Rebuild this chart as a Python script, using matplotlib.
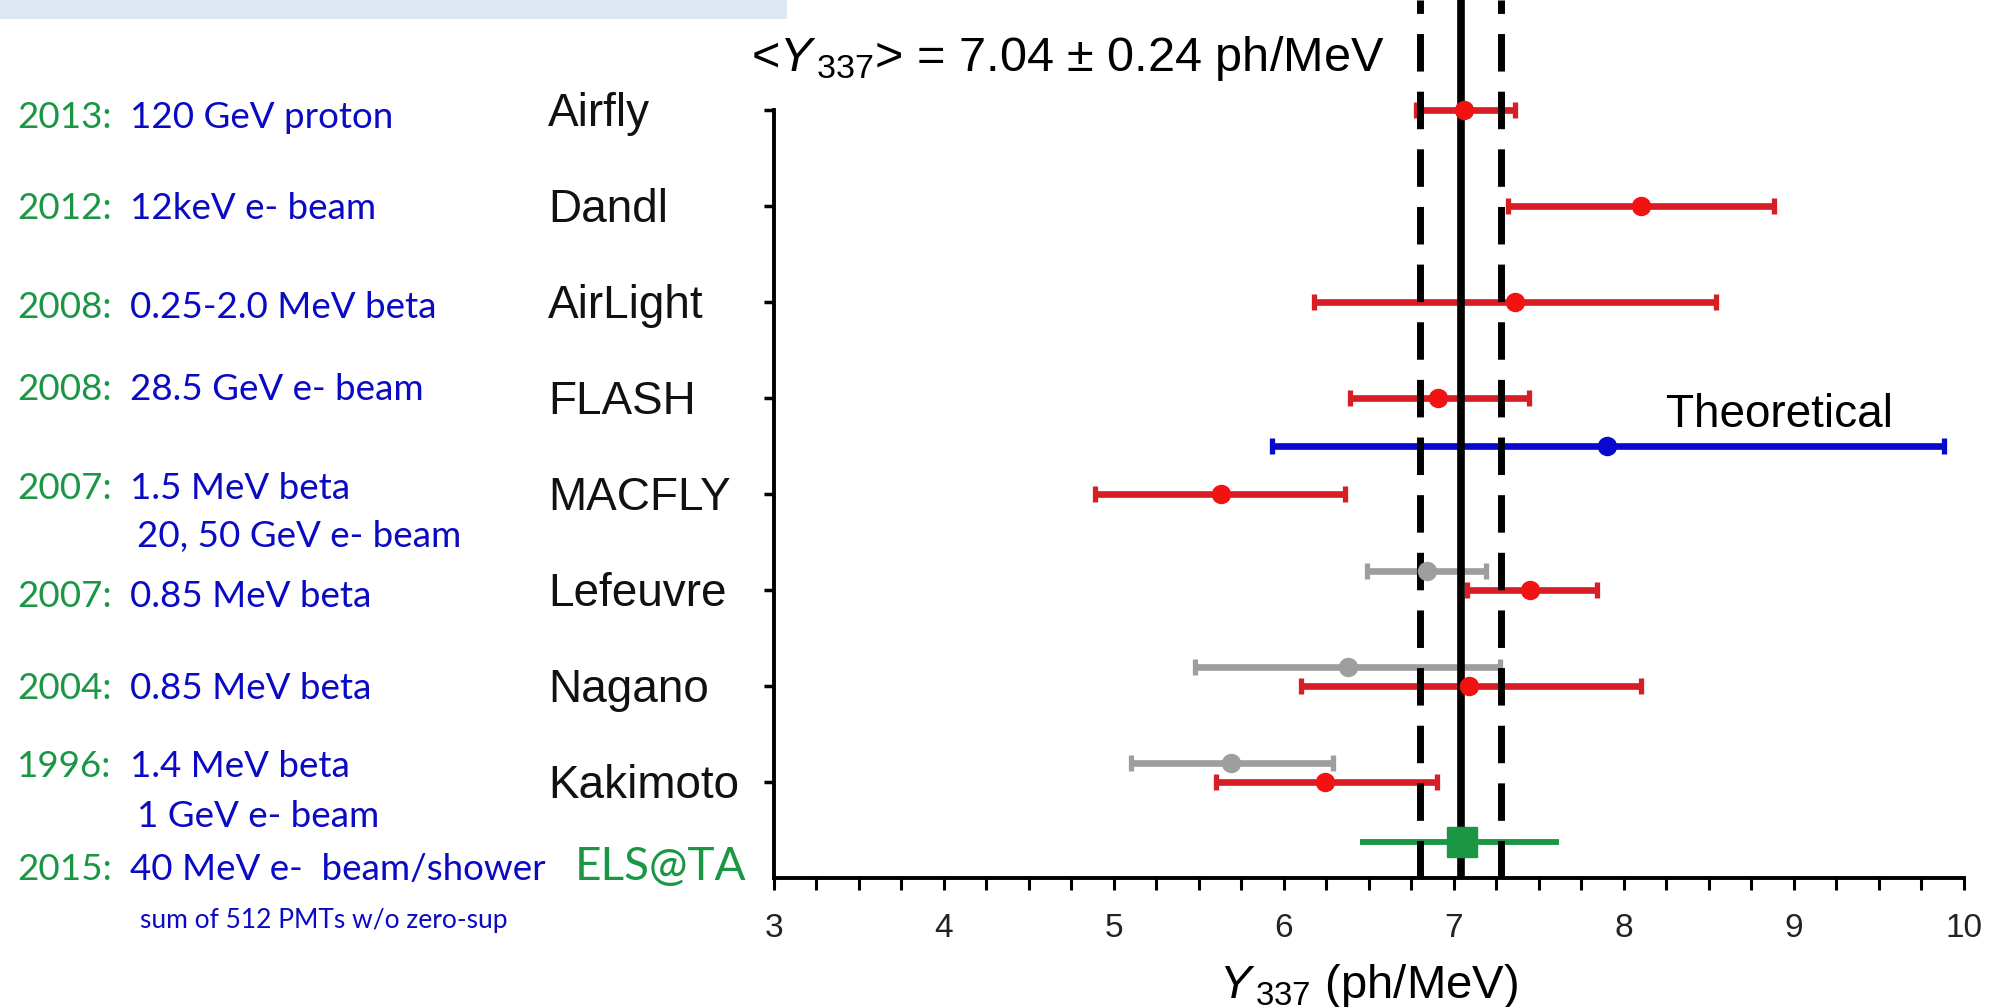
import matplotlib.pyplot as plt
import matplotlib.transforms as mtransforms
from matplotlib.patches import Rectangle
from matplotlib.ticker import MultipleLocator

plt.rcParams["font.family"] = ["Liberation Sans", "DejaVu Sans"]
plt.rcParams["mathtext.fontset"] = "custom"
plt.rcParams["mathtext.rm"] = "Liberation Sans"
plt.rcParams["mathtext.it"] = "Liberation Sans:italic"

W, H, DPI = 1989, 1007, 100

# Measurements, top to bottom
experiments = ["Airfly", "Dandl", "AirLight", "FLASH", "MACFLY", "Lefeuvre", "Nagano", "Kakimoto"]
years = ["2013:", "2012:", "2008:", "2008:", "2007:", "2007:", "2004:", "1996:"]
beams = ["120 GeV proton", "12keV e- beam", "0.25-2.0 MeV beta", "28.5 GeV e- beam",
         "1.5 MeV beta", "0.85 MeV beta", "0.85 MeV beta", "1.4 MeV beta"]
beams_2nd = ["", "", "", "", "20, 50 GeV e- beam", "", "", "1 GeV e- beam"]

y337 = [7.06, 8.10, 7.36, 6.91, 5.63, 7.45, 7.09, 6.24]
y337_lo = [6.78, 7.32, 6.18, 6.39, 4.89, 7.08, 6.10, 5.60]
y337_hi = [7.36, 8.88, 8.54, 7.44, 6.36, 7.84, 8.10, 6.90]

# earlier values of the same experiments (grey)
old_names = ["Lefeuvre", "Nagano", "Kakimoto"]
old_y337 = [6.84, 6.38, 5.69]
old_lo = [6.49, 5.48, 5.10]
old_hi = [7.19, 7.27, 6.29]

theory_y337, theory_lo, theory_hi = 7.90, 5.93, 9.88

els_year, els_beam, els_note = "2015:", "40 MeV e-  beam/shower", "sum of 512 PMTs w/o zero-sup"
els_y337, els_lo, els_hi = 7.05, 6.45, 7.62

mean_y337, mean_err = 7.04, 0.24

# layout (pixels from top / left of the figure)
year_baselines = [128, 219, 318, 400, 499, 607, 699, 777]
second_baselines = {4: 547, 7: 827}

RED_LINE, RED_DOT = "#d81d25", "#f21212"
GREY = "#9e9e9e"
BLUE = "#0808cf"
GREEN = "#1a9645"
TXT_BLUE = "#0a0ac4"

fig = plt.figure(figsize=(W / DPI, H / DPI), dpi=DPI)
ax = fig.add_axes([773.5 / W, 1 - 878 / H, (1964 - 773.5) / W, 878 / H])
ax.set_xlim(3, 10)
ax.set_ylim(0, 878 / 96)

n = len(experiments)
ypos = [n - i for i in range(n)]

bar_kw = dict(fmt="none", elinewidth=4.8, capsize=5.5, capthick=3.8, zorder=2)

ax.errorbar(y337, ypos,
            xerr=[[v - lo for v, lo in zip(y337, y337_lo)],
                  [hi - v for v, hi in zip(y337, y337_hi)]],
            ecolor=RED_LINE, **bar_kw)
ax.plot(y337, ypos, "o", ms=13, color=RED_DOT, zorder=4)

old_pos = [ypos[experiments.index(name)] + 0.2 for name in old_names]
ax.errorbar(old_y337, old_pos,
            xerr=[[v - lo for v, lo in zip(old_y337, old_lo)],
                  [hi - v for v, hi in zip(old_y337, old_hi)]],
            ecolor=GREY, **bar_kw)
ax.plot(old_y337, old_pos, "o", ms=13, color=GREY, zorder=4)

theory_pos = (ypos[experiments.index("FLASH")] + ypos[experiments.index("MACFLY")]) / 2
ax.errorbar([theory_y337], [theory_pos],
            xerr=[[theory_y337 - theory_lo], [theory_hi - theory_y337]],
            ecolor=BLUE, **bar_kw)
ax.plot([theory_y337], [theory_pos], "o", ms=13, color=BLUE, zorder=4)
ax.text(8.25, theory_pos + 0.2, "Theoretical", fontsize=33, ha="left", va="baseline")

els_pos = 0.38
ax.errorbar([els_y337], [els_pos], xerr=[[els_y337 - els_lo], [els_hi - els_y337]],
            fmt="none", ecolor=GREEN, elinewidth=4.2, capsize=0, zorder=2)
ax.plot([els_y337], [els_pos], "s", ms=21, color=GREEN, zorder=5)

# weighted mean and its uncertainty band
ax.axvline(mean_y337, color="black", lw=5.5, zorder=3)
for edge in (mean_y337 - mean_err, mean_y337 + mean_err):
    ax.axvline(edge, color="black", lw=5, ls=(0, (5.4, 2.9)), zorder=3)
ax.text(2.87, 8.41, f"<$Y_{{\\,337}}$> = {mean_y337:.2f} ± {mean_err:.2f} ph/MeV",
        fontsize=35, ha="left", va="baseline")

for side in ("top", "right"):
    ax.spines[side].set_visible(False)
for side in ("left", "bottom"):
    ax.spines[side].set_linewidth(2.8)
ax.spines["left"].set_bounds(0, n)

ax.set_yticks(ypos)
ax.set_yticklabels([])
ax.tick_params(axis="y", direction="out", length=7, width=2.5)
ax.xaxis.set_major_locator(MultipleLocator(1))
ax.xaxis.set_minor_locator(MultipleLocator(0.25))
ax.tick_params(axis="x", which="both", direction="out", length=8.5, width=2.2,
               labelsize=24, pad=17, labelcolor="#222222")

ax.set_xlabel(r"$Y_{\,337}$ (ph/MeV)", fontsize=34)
ax.xaxis.label.set_verticalalignment("baseline")
ax.xaxis.set_label_coords(0.5, (878 - 998) / 878)

# experiment names next to the axis
name_tr = mtransforms.blended_transform_factory(fig.transFigure, ax.transData)
for name, y in zip(experiments, ypos):
    ax.text(548 / W, y - 0.17, name, transform=name_tr, fontsize=33,
            ha="left", va="baseline", color="#111111")

# year / beam column on the left
left_kw = dict(family=["Lato", "DejaVu Sans"], va="baseline")
for i, (yr, beam) in enumerate(zip(years, beams)):
    yb = 1 - year_baselines[i] / H
    fig.text(17 / W, yb, yr, color=GREEN, fontsize=26.5, **left_kw)
    fig.text(130 / W, yb, beam, color=TXT_BLUE, fontsize=26.5, **left_kw)
    if beams_2nd[i]:
        fig.text(137 / W, 1 - second_baselines[i] / H, beams_2nd[i],
                 color=TXT_BLUE, fontsize=26.5, **left_kw)

fig.text(17 / W, 1 - 880 / H, els_year, color=GREEN, fontsize=26.5, **left_kw)
fig.text(130 / W, 1 - 880 / H, els_beam, color=TXT_BLUE, fontsize=26.5, **left_kw)
fig.text(140 / W, 1 - 928 / H, els_note, color=TXT_BLUE, fontsize=19, **left_kw)
fig.text(746 / W, 1 - 880 / H, "ELS@TA", color=GREEN, fontsize=33, ha="right", **left_kw)

# header strip
fig.patches.append(Rectangle((0, 1 - 19 / H), 787 / W, 19 / H, transform=fig.transFigure,
                             facecolor="#dde8f4", edgecolor="none", zorder=0))

fig.savefig("out.png", dpi=DPI)
